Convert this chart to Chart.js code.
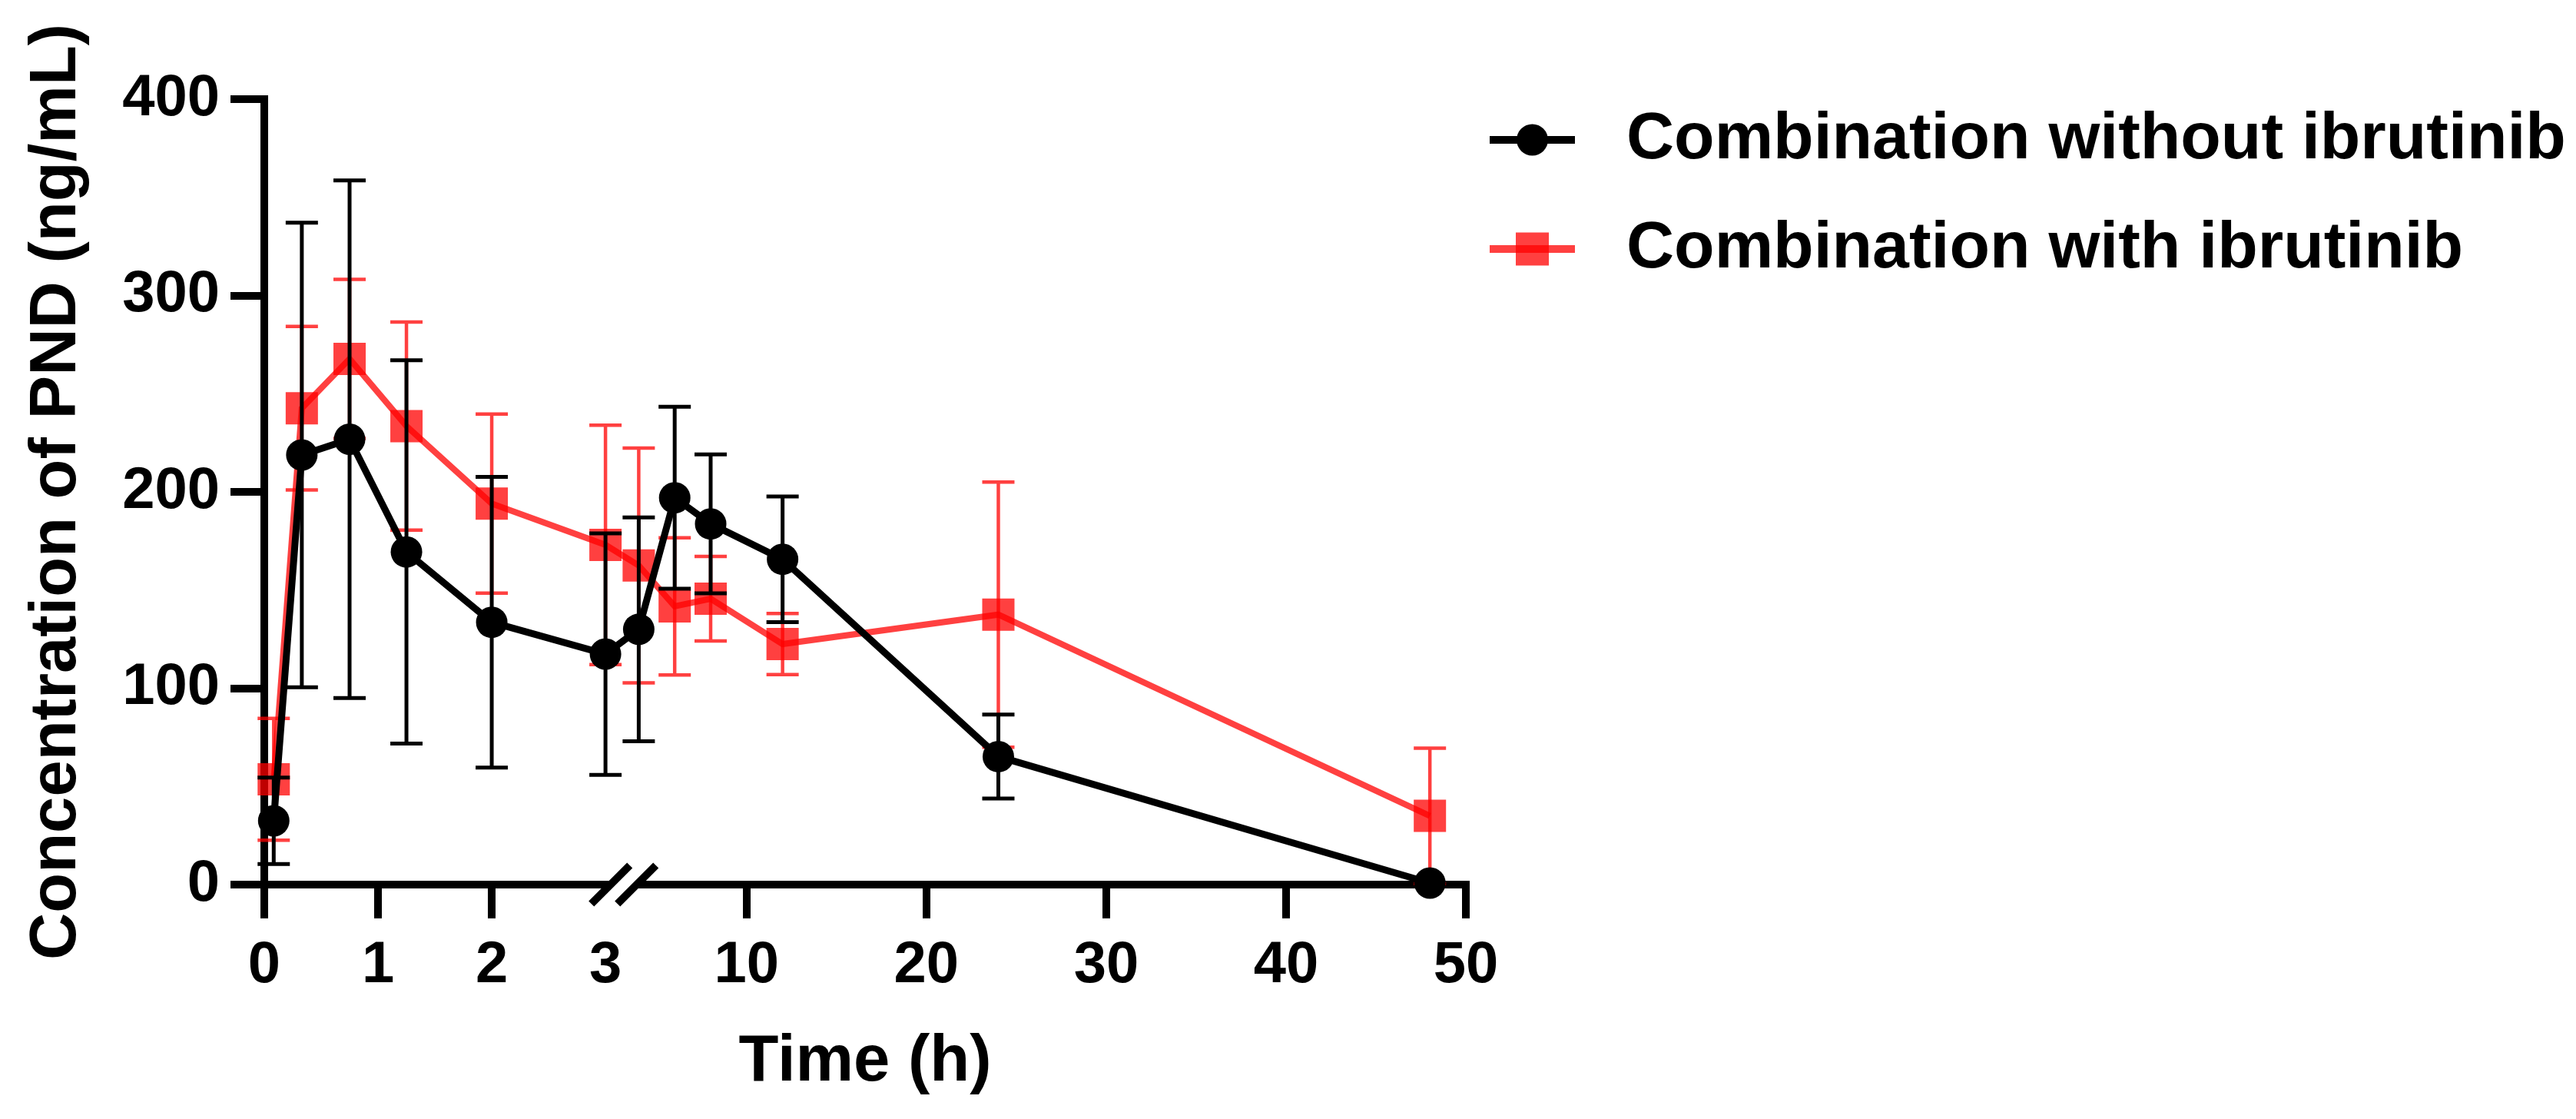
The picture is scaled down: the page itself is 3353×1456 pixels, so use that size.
<!DOCTYPE html>
<html>
<head>
<meta charset="utf-8">
<title>Concentration of PND</title>
<script src="https://cdn.jsdelivr.net/npm/chart.js@4.4.1/dist/chart.umd.min.js"></script>
<style>
  html, body { margin: 0; padding: 0; background: #fff; }
  #wrap { width: 3353px; height: 1456px; position: relative; }
</style>
</head>
<body>
<div id="wrap"><canvas id="pk"></canvas></div>
<script>
// sampling times (h)
const timesH = [0.083, 0.33, 0.75, 1.25, 2, 3, 4, 6, 8, 12, 24, 48];

// mean +/- SD, ng/mL
const withoutMean = [32.5, 218.8, 226.8, 169.4, 133.6, 117.4, 130, 197, 183.7, 165.7, 65.2, 0.8];
const withoutSd   = [22, 118.3, 131.8, 97.6, 74, 61.5, 57, 46.3, 35.4, 32, 21.4, 0];
const withMean    = [53.6, 242.6, 267.7, 233.5, 194, 173, 162.5, 141.7, 145.6, 122.5, 137.5, 35];
const withSd      = [31, 41.6, 40.5, 53, 45.6, 61, 59.8, 34.9, 21.5, 15.6, 67.5, 34.5];

const xTickHours  = [0, 1, 2, 3, 10, 20, 30, 40, 50];
const xTickLabels = ['0', '1', '2', '3', '10', '20', '30', '40', '50'];
const yTicks      = [0, 100, 200, 300, 400];

// broken time axis: 0-3 h stretched, after the break 1 h = 0.158 units
const SEG2_OFFSET = 2.66;
const SEG2_SCALE = 0.1581;
const BREAK_H = SEG2_OFFSET / (1 - SEG2_SCALE);
function toAxis(h) {
  return h <= BREAK_H ? h : SEG2_OFFSET + SEG2_SCALE * h;
}

const FONT = '"Liberation Sans", Arial, sans-serif';
const RED = 'rgba(255,0,0,0.75)';
const CAP = 21;

const errorBars = {
  id: 'errorBars',
  beforeDatasetDraw(chart, args) {
    const ds = chart.data.datasets[args.index];
    if (!ds.sd) return;
    const y = chart.scales.y;
    const ctx = chart.ctx;
    ctx.save();
    ctx.strokeStyle = ds.errorColor;
    ctx.lineWidth = ds.errorWidth;
    args.meta.data.forEach((pt, i) => {
      const sd = ds.sd[i];
      if (!sd) return;
      const m = ds.data[i].y;
      const top = y.getPixelForValue(m + sd);
      const bot = y.getPixelForValue(Math.max(m - sd, 0));
      ctx.beginPath();
      ctx.moveTo(pt.x, top); ctx.lineTo(pt.x, bot);
      ctx.moveTo(pt.x - CAP, top); ctx.lineTo(pt.x + CAP, top);
      ctx.moveTo(pt.x - CAP, bot); ctx.lineTo(pt.x + CAP, bot);
      ctx.stroke();
    });
    ctx.restore();
  }
};

const axisBreak = {
  id: 'axisBreak',
  afterDraw(chart) {
    const {ctx, scales: {x, y}} = chart;
    const cx = x.getPixelForValue(toAxis(BREAK_H));
    const cy = y.getPixelForValue(0);
    const gap = 17, half = 25, band = 8;
    ctx.save();
    ctx.fillStyle = '#fff';
    ctx.beginPath();
    ctx.moveTo(cx - gap + band, cy - band);
    ctx.lineTo(cx + gap + band, cy - band);
    ctx.lineTo(cx + gap - band, cy + band);
    ctx.lineTo(cx - gap - band, cy + band);
    ctx.closePath();
    ctx.fill();
    ctx.strokeStyle = '#000';
    ctx.lineWidth = 10;
    [-gap, gap].forEach(dx => {
      ctx.beginPath();
      ctx.moveTo(cx + dx - half, cy + half);
      ctx.lineTo(cx + dx + half, cy - half);
      ctx.stroke();
    });
    ctx.restore();
  }
};

// legend to the right, line + marker like the plot
const sideLegend = {
  id: 'sideLegend',
  afterDraw(chart) {
    const ctx = chart.ctx;
    const x0 = 1939, x1 = 2050, textX = 2117, top = 182, gap = 142;
    const cx = (x0 + x1) / 2;
    ctx.save();
    chart.data.datasets.forEach((ds, i) => {
      const y = top + i * gap;
      ctx.strokeStyle = ds.borderColor;
      ctx.lineWidth = 10;
      ctx.beginPath();
      ctx.moveTo(x0, y); ctx.lineTo(x1, y);
      ctx.stroke();
      ctx.fillStyle = ds.pointBackgroundColor;
      if (ds.pointStyle === 'rect') {
        ctx.fillRect(cx - 21.5, y - 21.5, 43, 43);
      } else {
        ctx.beginPath();
        ctx.arc(cx, y, 20.5, 0, Math.PI * 2);
        ctx.fill();
      }
      ctx.fillStyle = '#000';
      ctx.font = 'bold 86px ' + FONT;
      ctx.textAlign = 'left';
      ctx.textBaseline = 'middle';
      ctx.fillText(ds.label, textX, y);
    });
    ctx.restore();
  }
};

new Chart(document.getElementById('pk'), {
  type: 'line',
  data: {
    datasets: [
      {
        label: 'Combination without ibrutinib',
        data: timesH.map((t, i) => ({x: toAxis(t), y: withoutMean[i]})),
        sd: withoutSd,
        errorColor: '#000',
        errorWidth: 5,
        borderColor: '#000',
        borderWidth: 9,
        pointStyle: 'circle',
        pointRadius: 20.5,
        pointBorderWidth: 0,
        pointBackgroundColor: '#000',
        tension: 0,
        clip: false
      },
      {
        label: 'Combination with ibrutinib',
        data: timesH.map((t, i) => ({x: toAxis(t), y: withMean[i]})),
        sd: withSd,
        errorColor: RED,
        errorWidth: 4.5,
        borderColor: RED,
        borderWidth: 8,
        pointStyle: 'rect',
        pointRadius: 29.7,
        pointBorderWidth: 0,
        pointBackgroundColor: RED,
        tension: 0,
        clip: false
      }
    ]
  },
  options: {
    responsive: true,
    maintainAspectRatio: false,
    devicePixelRatio: 1,
    animation: false,
    events: [],
    layout: {
      autoPadding: false,
      padding: {left: 0, top: 129, right: 1445, bottom: 0}
    },
    plugins: {
      legend: {display: false},
      tooltip: {enabled: false}
    },
    scales: {
      x: {
        type: 'linear',
        min: 0,
        max: toAxis(50),
        afterFit: s => { s.height = 305; },
        afterBuildTicks: s => { s.ticks = xTickHours.map(h => ({value: toAxis(h)})); },
        border: {display: true, color: '#000', width: 10},
        grid: {
          drawOnChartArea: false,
          lineWidth: 10,
          tickWidth: 10,
          tickLength: 44,
          tickColor: c => xTickHours[c.index] === 3 ? 'rgba(0,0,0,0)' : '#000'
        },
        ticks: {
          autoSkip: false,
          maxRotation: 0,
          padding: 16,
          color: '#000',
          font: {family: FONT, size: 76, weight: 'bold'},
          callback: (v, i) => xTickLabels[i]
        },
        title: {
          display: true,
          text: 'Time (h)',
          color: '#000',
          font: {family: FONT, size: 85, weight: 'bold'},
          padding: {top: 0, bottom: 22}
        }
      },
      y: {
        min: 0,
        max: 400,
        afterFit: s => { s.width = 344; },
        afterBuildTicks: s => { s.ticks = yTicks.map(v => ({value: v})); },
        border: {display: true, color: '#000', width: 10},
        grid: {
          drawOnChartArea: false,
          lineWidth: 10,
          tickWidth: 10,
          tickLength: 44,
          tickColor: '#000'
        },
        ticks: {
          padding: 14,
          color: '#000',
          font: {family: FONT, size: 76, weight: 'bold'}
        },
        title: {
          display: true,
          text: 'Concentration of PND (ng/mL)',
          color: '#000',
          font: {family: FONT, size: 85, weight: 'bold'},
          padding: {top: 24, bottom: 0}
        }
      }
    }
  },
  plugins: [errorBars, axisBreak, sideLegend]
});
</script>
</body>
</html>
